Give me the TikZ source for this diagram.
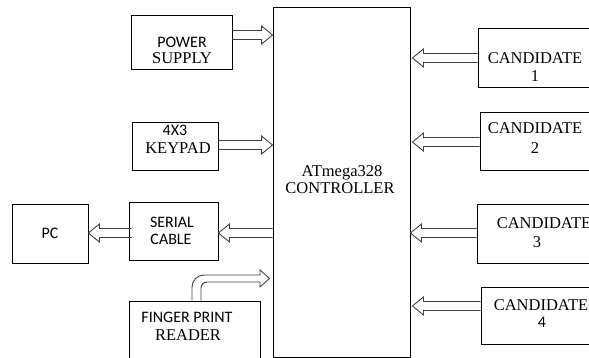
\documentclass[tikz,border=0pt]{standalone}
\usepackage{fontspec}
\setmainfont{Liberation Serif}
\newfontfamily\cbr{Carlito}
\usetikzlibrary{calc}
\tikzset{
  box/.style={draw=black, line width=0.9pt, rectangle, inner sep=0pt},
  arr/.style={draw=black!75, line width=0.9pt, line join=miter},
  sr/.style={font=\fontsize{16.5}{16}\selectfont, inner sep=0pt, anchor=center},
  ss/.style={font=\cbr\fontsize{16}{16}\selectfont, inner sep=0pt, anchor=center},
}
% hollow horizontal block arrow between two points
\newcommand\blockarrow[2]{%
  \draw[arr] let \p1=#1, \p2=#2, \n1={sign(\x2-\x1)} in
    (\x1,\y1+4.5pt) -- (\x2-\n1*11pt,\y1+4.5pt) -- (\x2-\n1*11pt,\y1+9pt)
    -- (\x2,\y1) -- (\x2-\n1*11pt,\y1-9pt) -- (\x2-\n1*11pt,\y1-4.5pt) -- (\x1,\y1-4.5pt);}
\begin{document}
\begin{tikzpicture}[x=1pt,y=-1pt]
\useasboundingbox (0,0) rectangle (589,358);
% boxes
\node[box, minimum width=101pt, minimum height=54pt] (ps) at (181.5,42) {};
\node[box, minimum width=86pt, minimum height=48pt] (kp) at (175,146) {};
\node[box, minimum width=76pt, minimum height=59pt] (pc) at (50,233.5) {};
\node[box, minimum width=89pt, minimum height=58pt] (sc) at (173.5,231) {};
\node[box, minimum width=131pt, minimum height=70pt] (fp) at (194.5,336) {};
\node[box, minimum width=137pt, minimum height=350pt] (ctrl) at (341.5,182) {};
\node[box, minimum width=122pt, minimum height=59pt] (c1) at (539,57.5) {};
\node[box, minimum width=120pt, minimum height=58pt] (c2) at (540,141) {};
\node[box, minimum width=123pt, minimum height=59pt] (c3) at (538.5,233.5) {};
\node[box, minimum width=119pt, minimum height=57pt] (c4) at (540.5,315.5) {};
% texts
\node[ss] (t1) at (182,42) {POWER};
\node[sr] (t2) at (182,58) {SUPPLY};
\node[ss] (t3) at (175,130) {4X3};
\node[sr] (t4) at (178,148) {KEYPAD};
\node[ss] (t5) at (50,233) {PC};
\node[ss] (t6) at (172,222) {SERIAL};
\node[ss] (t7) at (171,239) {CABLE};
\node[ss] (t8) at (187,317) {FINGER PRINT};
\node[sr] (t9) at (188,335) {READER};
\node[sr] (t10) at (342,173) {ATmega328};
\node[sr] (t11) at (340,188) {CONTROLLER};
\node[sr] (t12) at (535,58) {CANDIDATE};
\node[sr] (t13) at (535,76) {1};
\node[sr] (t14) at (535,128) {CANDIDATE};
\node[sr] (t15) at (535,148) {2};
\node[sr] (t16) at (544,223) {CANDIDATE};
\node[sr] (t17) at (537,242) {3};
\node[sr] (t18) at (541,305) {CANDIDATE};
\node[ss] (t19) at (542,322) {4};
% arrows
\blockarrow{(ps.east |- 0,35)}{(ctrl.west |- 0,35)}
\blockarrow{(kp.east |- 0,145)}{(ctrl.west |- 0,145)}
\blockarrow{(ctrl.west |- 0,233)}{(sc.east |- 0,233)}
\blockarrow{($(sc.west |- 0,233)+(3,0)$)}{(pc.east |- 0,233)}
\blockarrow{(c1.west |- 0,58)}{($(ctrl.east |- 0,58)+(2,0)$)}
\blockarrow{(c2.west |- 0,142)}{($(ctrl.east |- 0,142)+(2,0)$)}
\blockarrow{(c3.west |- 0,233)}{(ctrl.east |- 0,233)}
\blockarrow{(c4.west |- 0,306)}{($(ctrl.east |- 0,306)+(2,0)$)}
% bent arrow from finger print reader
\draw[arr] let \p1=(fp.north), \p2=(ctrl.west) in
  (192,\y1) -- (192,287) arc[start angle=180, end angle=90, radius=12pt]
  -- (260,275) -- (260,270) -- (\x2-3pt,278.5) -- (260,287) -- (260,282)
  -- (207,282) arc[start angle=90, end angle=180, radius=6pt] -- (201,\y1);
\end{tikzpicture}
\end{document}
